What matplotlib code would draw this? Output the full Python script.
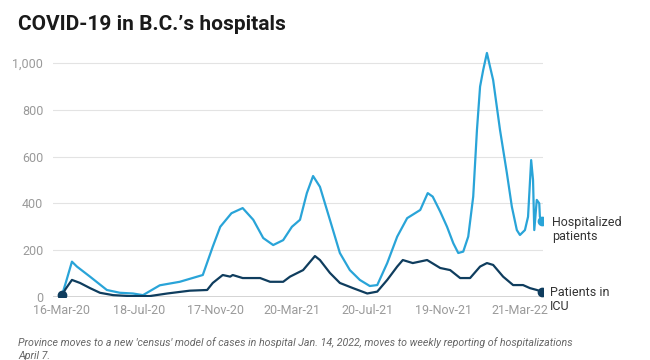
"""COVID-19 hospitalizations in B.C. - line chart."""

from datetime import datetime, timedelta

import matplotlib
matplotlib.use("Agg")
import matplotlib.pyplot as plt

plt.rcParams["font.family"] = ["Roboto", "DejaVu Sans"]

# Hospitalized patients
hosp_dates = [
    "2020-03-16", "2020-03-22", "2020-04-01", "2020-04-09", "2020-04-30",
    "2020-05-27", "2020-06-17", "2020-07-08", "2020-07-24", "2020-08-20",
    "2020-09-21", "2020-10-28", "2020-11-13", "2020-11-25", "2020-12-13",
    "2020-12-31", "2021-01-17", "2021-02-02", "2021-02-18", "2021-03-06",
    "2021-03-20", "2021-04-02", "2021-04-13", "2021-04-23", "2021-05-04",
    "2021-05-20", "2021-06-05", "2021-06-21", "2021-07-07", "2021-07-23",
    "2021-08-04", "2021-08-20", "2021-09-05", "2021-09-21", "2021-10-12",
    "2021-10-24", "2021-11-01", "2021-11-13", "2021-11-24", "2021-12-04",
    "2021-12-12", "2021-12-20", "2021-12-28", "2022-01-05", "2022-01-11",
    "2022-01-16", "2022-01-21", "2022-01-27", "2022-02-01", "2022-02-06",
    "2022-02-17", "2022-02-28", "2022-03-08", "2022-03-16", "2022-03-21",
    "2022-03-29", "2022-04-03", "2022-04-08", "2022-04-11", "2022-04-13",
    "2022-04-17", "2022-04-21", "2022-04-22", "2022-04-25",
]
hosp_values = [
    8, 60, 151, 130, 87,
    30, 18, 15, 8, 50,
    65, 94, 215, 300, 358,
    380, 330, 252, 222, 243,
    300, 330, 444, 517, 471,
    330, 188, 115, 73, 47,
    51, 145, 258, 337, 372,
    444, 429, 365, 300, 230,
    188, 194, 258, 429, 714,
    899, 970, 1043, 984, 927,
    714, 530, 386, 286, 265,
    286, 343, 585, 500, 286,
    415, 400, 343, 325,
]

# Patients in ICU
icu_dates = [
    "2020-03-16", "2020-03-22", "2020-04-01", "2020-04-14", "2020-04-30",
    "2020-05-16", "2020-06-06", "2020-07-03", "2020-08-04", "2020-09-01",
    "2020-10-07", "2020-11-04", "2020-11-13", "2020-11-29", "2020-12-11",
    "2020-12-15", "2020-12-31", "2021-01-28", "2021-02-13", "2021-03-06",
    "2021-03-17", "2021-04-07", "2021-04-26", "2021-05-04", "2021-05-20",
    "2021-06-05", "2021-06-26", "2021-07-19", "2021-08-04", "2021-08-20",
    "2021-09-05", "2021-09-14", "2021-09-30", "2021-10-23", "2021-11-13",
    "2021-11-29", "2021-12-15", "2021-12-31", "2022-01-16", "2022-01-27",
    "2022-02-06", "2022-02-22", "2022-03-10", "2022-03-26", "2022-04-06",
    "2022-04-17", "2022-04-25",
]
icu_values = [
    8, 35, 73, 60, 38,
    18, 8, 4, 4, 15,
    27, 30, 60, 94, 87,
    94, 81, 81, 65, 65,
    87, 115, 175, 158, 103,
    60, 38, 15, 23, 73,
    130, 158, 145, 158, 124,
    115, 81, 81, 130, 145,
    137, 87, 51, 51, 38,
    30, 23,
]

tick_dates = ["2020-03-16", "2020-07-18", "2020-11-17", "2021-03-20",
              "2021-07-20", "2021-11-19", "2022-03-21"]
tick_labels = ["16-Mar-20", "18-Jul-20", "17-Nov-20", "20-Mar-21",
               "20-Jul-21", "19-Nov-21", "21-Mar-22"]
y_ticks = [0, 200, 400, 600, 800, 1000]
y_labels = ["0", "200", "400", "600", "800", "1,000"]

HOSP_COLOR = "#29a4d8"
ICU_COLOR = "#0f3d5e"
GREY = "#9a9a9a"


def to_dt(values):
    return [datetime.strptime(v, "%Y-%m-%d") for v in values]


hosp_x = to_dt(hosp_dates)
icu_x = to_dt(icu_dates)

fig = plt.figure(figsize=(6.5, 3.6), dpi=100)
ax = fig.add_axes([53 / 650, 0.175, 490 / 650, 0.6825])

ax.plot(hosp_x, hosp_values, color=HOSP_COLOR, linewidth=1.6, zorder=3)
ax.plot(icu_x, icu_values, color=ICU_COLOR, linewidth=1.6, zorder=4)

# end / start dots
ax.plot(hosp_x[-1], hosp_values[-1], "o", color=HOSP_COLOR, markersize=6, zorder=5)
ax.plot(icu_x[-1], icu_values[-1], "o", color=ICU_COLOR, markersize=6, zorder=5)
ax.plot(icu_x[0], icu_values[0], "o", color=ICU_COLOR, markersize=6, zorder=5)

start = datetime(2020, 3, 16)
ax.set_xlim(start - timedelta(days=14.4), start + timedelta(days=772))
ax.set_ylim(0, 1050)

ax.set_xticks(to_dt(tick_dates))
ax.set_xticklabels(tick_labels)
ax.set_yticks(y_ticks)
ax.set_yticklabels(y_labels)
ax.tick_params(axis="both", length=0, labelsize=9, colors=GREY)
ax.tick_params(axis="x", pad=5)
ax.tick_params(axis="y", pad=7)

ax.grid(axis="y", color="#e3e3e3", linewidth=0.8)
ax.set_axisbelow(True)
for side in ["top", "right", "left", "bottom"]:
    ax.spines[side].set_visible(False)
ax.axhline(0, color="#333333", linewidth=1.0, zorder=2)

# direct labels at right
fig.text(552 / 650, 1 - 230 / 360, "Hospitalized\npatients",
         ha="left", va="center", fontsize=9, color="#333333", linespacing=1.1)
fig.text(550 / 650, 1 - 300 / 360, "Patients in\nICU",
         ha="left", va="center", fontsize=9, color="#333333", linespacing=1.1)

fig.text(18 / 650, 1 - 24 / 360, "COVID-19 in B.C.’s hospitals",
         fontsize=15, fontweight="bold", color="#1a1a1a",
         ha="left", va="center")

fig.text(18 / 650, 1 - 349 / 360,
         "Province moves to a new 'census' model of cases in hospital "
         "Jan. 14, 2022, moves to weekly reporting of hospitalizations\nApril 7.",
         fontsize=7.7, style="italic", color="#666666",
         ha="left", va="center", linespacing=1.45)

fig.savefig("out.png", dpi=100)
